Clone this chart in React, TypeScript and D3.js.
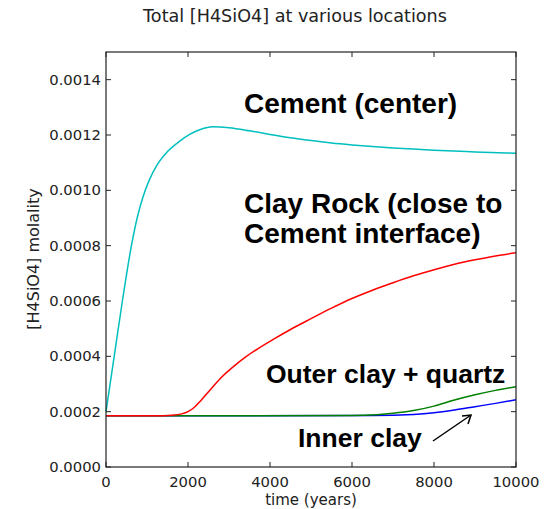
import React from "react";
import * as d3 from "d3";

const xTicks = [0, 2000, 4000, 6000, 8000, 10000];
const yTicks = [0, 0.0002, 0.0004, 0.0006, 0.0008, 0.001, 0.0012, 0.0014];

const cementCenter: [number, number][] = [
  [0, 0.0002], [100, 0.0003], [200, 0.0004], [400, 0.0006], [620, 0.0008],
  [760, 0.0009], [900, 0.000975], [1050, 0.001035], [1250, 0.001093],
  [1500, 0.00114], [1800, 0.001178], [2050, 0.001203], [2300, 0.00122],
  [2600, 0.00123], [3000, 0.001226], [3500, 0.001215], [4000, 0.001202],
  [4500, 0.00119], [5000, 0.00118], [5500, 0.001171], [6000, 0.001164],
  [6500, 0.001158], [7000, 0.001153], [7500, 0.001149], [8000, 0.001145],
  [9000, 0.001139], [10000, 0.001134],
];
const clayRock: [number, number][] = [
  [0, 0.000185], [1200, 0.000185], [1600, 0.000187], [1850, 0.000192],
  [2000, 0.0002], [2150, 0.000215], [2300, 0.000238], [2500, 0.000272],
  [2800, 0.000322], [3100, 0.000362], [3400, 0.000397], [3700, 0.000427],
  [4100, 0.000463], [4500, 0.000497], [5000, 0.000536], [5500, 0.000574],
  [6000, 0.000609], [6500, 0.000639], [7000, 0.000666], [7500, 0.000691],
  [8000, 0.000713], [8500, 0.000733], [9000, 0.000749], [9500, 0.000763],
  [10000, 0.000774],
];
const outerClay: [number, number][] = [
  [0, 0.000185], [6000, 0.000186], [6600, 0.000189], [7000, 0.000194],
  [7500, 0.000204], [8000, 0.00022], [8500, 0.000242], [9000, 0.000261],
  [9500, 0.000277], [10000, 0.00029],
];
const innerClay: [number, number][] = [
  [0, 0.000185], [6500, 0.000186], [7500, 0.00019], [8000, 0.000196],
  [8500, 0.000206], [9000, 0.000218], [9500, 0.00023], [10000, 0.000243],
];

const L = 106, R = 516, T = 52, B = 467;

export default function App() {
  const x = d3.scaleLinear().domain([0, 10000]).range([L, R]);
  const y = d3.scaleLinear().domain([0, 0.0015]).range([B, T]);
  const line = d3
    .line<[number, number]>()
    .x((d) => x(d[0]))
    .y((d) => y(d[1]))
    .curve(d3.curveMonotoneX);
  const series = [
    { data: innerClay, color: "#0000ff" },
    { data: outerClay, color: "#008000" },
    { data: clayRock, color: "#ff0000" },
    { data: cementCenter, color: "#00bfbf" },
  ];
  const tickFont = "DejaVu Sans, sans-serif";
  const bold = "Liberation Sans, Arial, sans-serif";
  return (
    <svg
      width={553}
      height={509}
      style={{ position: "absolute", left: 0, top: 0, background: "#fff" }}
    >
      <rect x={0} y={0} width={553} height={509} fill="#fff" />
      <text x={295} y={22} textAnchor="middle" fontFamily={tickFont} fontSize={17.6} fill="#222">
        Total [H4SiO4] at various locations
      </text>
      {series.map((s, i) => (
        <path key={i} d={line(s.data) || ""} fill="none" stroke={s.color} strokeWidth={1.5} />
      ))}
      <rect x={L} y={T} width={R - L} height={B - T} fill="none" stroke="#222" strokeWidth={1.2} />
      {xTicks.map((t) => (
        <g key={"x" + t}>
          <line x1={x(t)} x2={x(t)} y1={B} y2={B - 5} stroke="#222" />
          <line x1={x(t)} x2={x(t)} y1={T} y2={T + 5} stroke="#222" />
          <text x={x(t)} y={486.5} textAnchor="middle" fontFamily={tickFont} fontSize={14.8} fill="#222">
            {t}
          </text>
        </g>
      ))}
      {yTicks.map((t) => (
        <g key={"y" + t}>
          <line x1={L} x2={L + 5} y1={y(t)} y2={y(t)} stroke="#222" />
          <line x1={R} x2={R - 5} y1={y(t)} y2={y(t)} stroke="#222" />
          <text x={L - 5} y={y(t) + 5} textAnchor="end" fontFamily={tickFont} fontSize={14.8} fill="#222">
            {t.toFixed(4)}
          </text>
        </g>
      ))}
      <text x={(L + R) / 2} y={505} textAnchor="middle" fontFamily={tickFont} fontSize={15} fill="#222">
        time (years)
      </text>
      <text
        transform={`translate(39,259) rotate(-90)`}
        textAnchor="middle"
        fontFamily={tickFont}
        fontSize={16}
        fill="#222"
      >
        [H4SiO4] molality
      </text>
      <g fontFamily={bold} fontWeight="bold" fill="#000">
        <text x={244} y={113} fontSize={28}>Cement (center)</text>
        <text x={244} y={213} fontSize={28}>Clay Rock (close to</text>
        <text x={244} y={243} fontSize={28}>Cement interface)</text>
        <text x={266} y={383} fontSize={26.5}>Outer clay + quartz</text>
        <text x={298} y={447} fontSize={26.5}>Inner clay</text>
      </g>
      <g stroke="#000" strokeWidth={1.5} fill="none">
        <line x1={433} y1={441} x2={471} y2={415} />
        <polyline points="462,416 471,415 468,424" />
      </g>
    </svg>
  );
}
